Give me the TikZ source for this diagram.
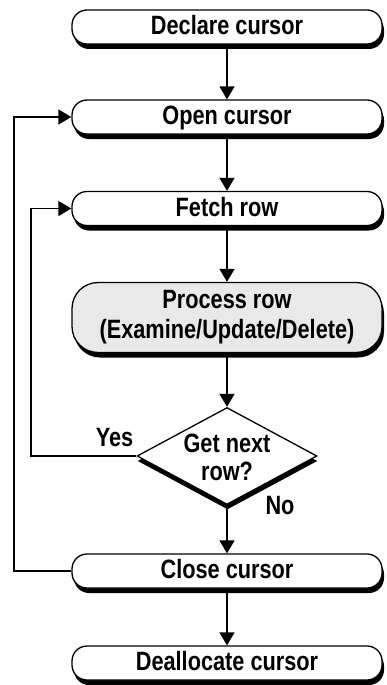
\documentclass[tikz,border=0pt]{standalone}
\usepackage{fontspec}
\setmainfont{Liberation Sans}[FakeStretch=0.82]
\usetikzlibrary{shapes.geometric,shadows,arrows.meta}
\definecolor{procfill}{RGB}{233,233,233}
\begin{document}
\begin{tikzpicture}[x=1pt,y=-1pt,
  every node/.style={font=\fontsize{26.5}{30}\selectfont\bfseries},
  boxshadow/.style={drop shadow={shadow xshift=2pt,shadow yshift=-5pt,fill=black,opacity=1}},
  term/.style={draw,line width=1.3pt,fill=white,rounded corners=15pt,
    minimum width=310pt,minimum height=34pt,inner sep=0pt,
    text height=19pt,text depth=4pt,boxshadow},
  proc/.style={draw,line width=1.3pt,fill=procfill,rounded corners=26pt,
    minimum width=310pt,minimum height=70pt,inner sep=0pt,align=center,boxshadow},
  decision/.style={diamond,draw,line width=1.3pt,fill=white,
    minimum width=180pt,minimum height=97pt,inner sep=0pt,
    drop shadow={shadow xshift=0.5pt,shadow yshift=-5pt,fill=black,opacity=1}},
  lbl/.style={inner sep=0pt,anchor=base},
  arr/.style={line width=1.4pt,-{Triangle[width=15pt,length=13pt]}},
  flow/.style={line width=1.4pt}]
\useasboundingbox (0,0) rectangle (386,685);

% flow steps
\node[term] (decl) at (227,27) {Declare cursor};
\node[term] (open) at (227,117) {Open cursor};
\node[term] (fetch) at (227,208.5) {Fetch row};
\node[proc] (proc) at (227,317.5) {Process row\\(Examine/Update/Delete)};
\node[decision] (q) at (227,456) {};
\node[inner sep=0pt,align=center,font=\fontsize{26.5}{28}\selectfont\bfseries] (qtext) at (227,457.5) {Get next\\row?};
\node[term] (close) at (227,571) {Close cursor};
\node[term] (dealloc) at (227,663) {Deallocate cursor};

% branch labels
\node[lbl] (yes) at (114.5,446) {Yes};
\node[lbl] (no) at (280,514) {No};

% bends of the two loops
\coordinate (yesturn) at (31,456);
\coordinate (closeturn) at (14,571);

% connectors
\draw[arr] (decl) -- (open);
\draw[arr] (open) -- (fetch);
\draw[arr] (fetch) -- (proc);
\draw[arr] (proc) -- (q);
\draw[arr] (q) -- (close);
\draw[arr] (close) -- (dealloc);
\draw[arr] (q.west) -- (yesturn) |- (fetch.west);
\draw[arr] (close.west) -- (closeturn) |- (open.west);
\end{tikzpicture}
\end{document}
